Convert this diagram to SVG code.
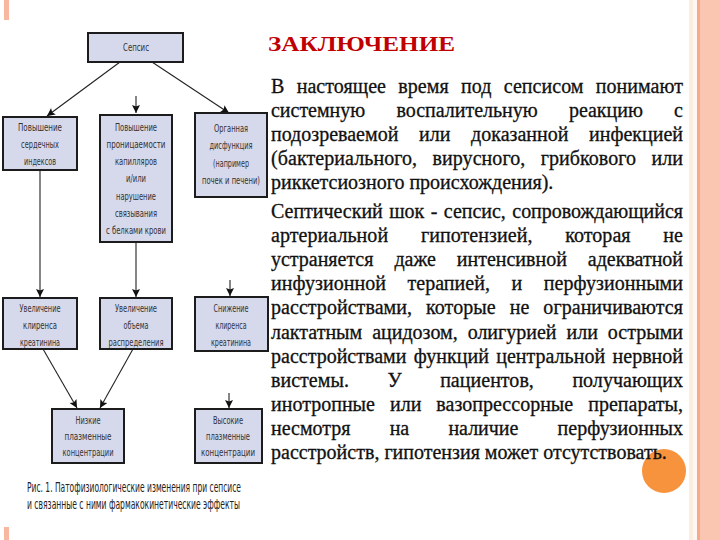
<svg xmlns="http://www.w3.org/2000/svg" width="720" height="540" viewBox="0 0 720 540">
<style>
.box{fill:#d6d8ec;stroke:#1c1c1c;stroke-width:2}
.bt{font-family:"Liberation Sans Narrow","DejaVu Sans Condensed","Liberation Sans",sans-serif;font-size:11px;fill:#333;text-anchor:middle}
.cap{font-family:"Liberation Sans Narrow","DejaVu Sans Condensed","Liberation Sans",sans-serif;font-size:13.5px;fill:#222}
.body{font-family:"Liberation Serif",Tinos,"Times New Roman",serif;font-size:20px;fill:#111;stroke:#111;stroke-width:0.3}
.title{font-family:"Liberation Serif",Tinos,"Times New Roman",serif;font-size:21px;font-weight:bold;fill:#c00000}
.conn line{stroke:#222;stroke-width:1.1;marker-end:url(#ah)}
</style>
<defs>
<marker id="ah" viewBox="0 0 10 10" refX="10" refY="5" markerWidth="9" markerHeight="8" markerUnits="userSpaceOnUse" orient="auto">
<path d="M0,0 L10,5 L0,10 L2,5 z" fill="#111"/>
</marker>
</defs>
<rect width="720" height="540" fill="#fff"/>
<rect x="4" y="0" width="5" height="20" fill="#f8b8a0"/>
<rect x="4" y="527" width="5" height="13" fill="#f8b8a0"/>
<rect x="689" y="0" width="4" height="540" fill="#fbeee0"/>
<rect x="693" y="0" width="4" height="540" fill="#fef6f0"/>
<rect x="697" y="0" width="3" height="540" fill="#f5a98d"/>
<rect x="700" y="0" width="20" height="540" fill="#fbc6b1"/>
<circle cx="664" cy="471" r="22" fill="#f7923d"/>

<g id="connectors" class="conn">
<line x1="120" y1="62" x2="47" y2="116"/>
<line x1="152" y1="62" x2="229" y2="113"/>
<line x1="136" y1="96" x2="136" y2="113"/>
<line x1="40" y1="170" x2="40" y2="297"/>
<line x1="136" y1="242" x2="136" y2="297"/>
<line x1="230" y1="280" x2="230" y2="296"/>
<line x1="43" y1="349" x2="77" y2="408"/>
<line x1="133" y1="349" x2="100" y2="408"/>
<line x1="229" y1="393" x2="229" y2="408"/>
</g>

<g id="sepsis"><rect class="box" x="88" y="33" width="95" height="29"/>
<text class="bt" x="136" y="51" textLength="26" lengthAdjust="spacingAndGlyphs">Сепсис</text></g>

<g id="n1"><rect class="box" x="3" y="117" width="74" height="53"/>
<text class="bt" x="40" y="131" textLength="44" lengthAdjust="spacingAndGlyphs">Повышение</text>
<text class="bt" x="40" y="148" textLength="38" lengthAdjust="spacingAndGlyphs">сердечных</text>
<text class="bt" x="40" y="165" textLength="32" lengthAdjust="spacingAndGlyphs">индексов</text></g>

<g id="n2"><rect class="box" x="100" y="115" width="72" height="127"/>
<text class="bt" x="136" y="131" textLength="42" lengthAdjust="spacingAndGlyphs">Повышение</text>
<text class="bt" x="136" y="148" textLength="59" lengthAdjust="spacingAndGlyphs">проницаемости</text>
<text class="bt" x="136" y="165" textLength="42" lengthAdjust="spacingAndGlyphs">капилляров</text>
<text class="bt" x="136" y="182" textLength="20" lengthAdjust="spacingAndGlyphs">и/или</text>
<text class="bt" x="136" y="200" textLength="40" lengthAdjust="spacingAndGlyphs">нарушение</text>
<text class="bt" x="136" y="217" textLength="42" lengthAdjust="spacingAndGlyphs">связывания</text>
<text class="bt" x="136" y="234" textLength="60" lengthAdjust="spacingAndGlyphs">с белками крови</text></g>

<g id="n3"><rect class="box" x="195" y="113" width="72" height="84"/>
<text class="bt" x="231" y="132" textLength="34" lengthAdjust="spacingAndGlyphs">Органная</text>
<text class="bt" x="231" y="149" textLength="43" lengthAdjust="spacingAndGlyphs">дисфункция</text>
<text class="bt" x="231" y="167" textLength="36" lengthAdjust="spacingAndGlyphs">(например</text>
<text class="bt" x="231" y="184" textLength="58" lengthAdjust="spacingAndGlyphs">почек и печени)</text></g>

<g id="n4"><rect class="box" x="3" y="298" width="74" height="51"/>
<text class="bt" x="40" y="312" textLength="41" lengthAdjust="spacingAndGlyphs">Увеличение</text>
<text class="bt" x="40" y="329" textLength="34" lengthAdjust="spacingAndGlyphs">клиренса</text>
<text class="bt" x="40" y="346" textLength="40" lengthAdjust="spacingAndGlyphs">креатинина</text></g>

<g id="n5"><rect class="box" x="100" y="298" width="72" height="51"/>
<text class="bt" x="136" y="312" textLength="42" lengthAdjust="spacingAndGlyphs">Увеличение</text>
<text class="bt" x="136" y="329" textLength="25" lengthAdjust="spacingAndGlyphs">объема</text>
<text class="bt" x="136" y="346" textLength="55" lengthAdjust="spacingAndGlyphs">распределения</text></g>

<g id="n6"><rect class="box" x="195" y="297" width="73" height="54"/>
<text class="bt" x="231" y="312" textLength="35" lengthAdjust="spacingAndGlyphs">Снижение</text>
<text class="bt" x="231" y="329" textLength="31" lengthAdjust="spacingAndGlyphs">клиренса</text>
<text class="bt" x="231" y="346" textLength="40" lengthAdjust="spacingAndGlyphs">креатинина</text></g>

<g id="n7"><rect class="box" x="52" y="409" width="72" height="54"/>
<text class="bt" x="88" y="424" textLength="25" lengthAdjust="spacingAndGlyphs">Низкие</text>
<text class="bt" x="88" y="440" textLength="47" lengthAdjust="spacingAndGlyphs">плазменные</text>
<text class="bt" x="88" y="456" textLength="51" lengthAdjust="spacingAndGlyphs">концентрации</text></g>

<g id="n8"><rect class="box" x="195" y="409" width="67" height="54"/>
<text class="bt" x="228" y="424" textLength="30" lengthAdjust="spacingAndGlyphs">Высокие</text>
<text class="bt" x="228" y="440" textLength="44" lengthAdjust="spacingAndGlyphs">плазменные</text>
<text class="bt" x="228" y="456" textLength="54" lengthAdjust="spacingAndGlyphs">концентрации</text></g>

<g id="caption">
<text class="cap" x="27" y="492" textLength="214" lengthAdjust="spacingAndGlyphs">Рис. 1. Патофизиологические изменения при сепсисе</text>
<text class="cap" x="27" y="509" textLength="213" lengthAdjust="spacingAndGlyphs">и связанные с ними фармакокинетические эффекты</text>
</g>

<g id="textblock">
<text class="title" x="268" y="51" textLength="187" lengthAdjust="spacingAndGlyphs">ЗАКЛЮЧЕНИЕ</text>
<text class="body" x="271" y="93" word-spacing="7.3" textLength="412" lengthAdjust="spacing">В настоящее время под сепсисом понимают</text>
<text class="body" x="271" y="117" word-spacing="26.3" textLength="412" lengthAdjust="spacing">системную воспалительную реакцию с</text>
<text class="body" x="271" y="141" word-spacing="15.7" textLength="412" lengthAdjust="spacing">подозреваемой или доказанной инфекцией</text>
<text class="body" x="271" y="165" word-spacing="10.3" textLength="412" lengthAdjust="spacing">(бактериального, вирусного, грибкового или</text>
<text class="body" x="271" y="189">риккетсиозного происхождения).</text>
<text class="body" x="271" y="218" word-spacing="1.5" textLength="412" lengthAdjust="spacing">Септический шок - сепсис, сопровождающийся</text>
<text class="body" x="271" y="242" word-spacing="27.7" textLength="412" lengthAdjust="spacing">артериальной гипотензией, которая не</text>
<text class="body" x="271" y="266" word-spacing="16" textLength="412" lengthAdjust="spacing">устраняется даже интенсивной адекватной</text>
<text class="body" x="271" y="290" word-spacing="16.5" textLength="412" lengthAdjust="spacing">инфузионной терапией, и перфузионными</text>
<text class="body" x="271" y="314" word-spacing="9" textLength="412" lengthAdjust="spacing">расстройствами, которые не ограничиваются</text>
<text class="body" x="271" y="339" word-spacing="5" textLength="412" lengthAdjust="spacing">лактатным ацидозом, олигурией или острыми</text>
<text class="body" x="271" y="363" word-spacing="2.4" textLength="412" lengthAdjust="spacing">расстройствами функций центральной нервной</text>
<text class="body" x="271" y="387" word-spacing="33.5" textLength="412" lengthAdjust="spacing">вистемы. У пациентов, получающих</text>
<text class="body" x="271" y="411" word-spacing="10" textLength="412" lengthAdjust="spacing">инотропные или вазопрессорные препараты,</text>
<text class="body" x="271" y="435" word-spacing="34.2" textLength="412" lengthAdjust="spacing">несмотря на наличие перфузионных</text>
<text class="body" x="271" y="459">расстройств, гипотензия может отсутствовать.</text>
</g>
</svg>
